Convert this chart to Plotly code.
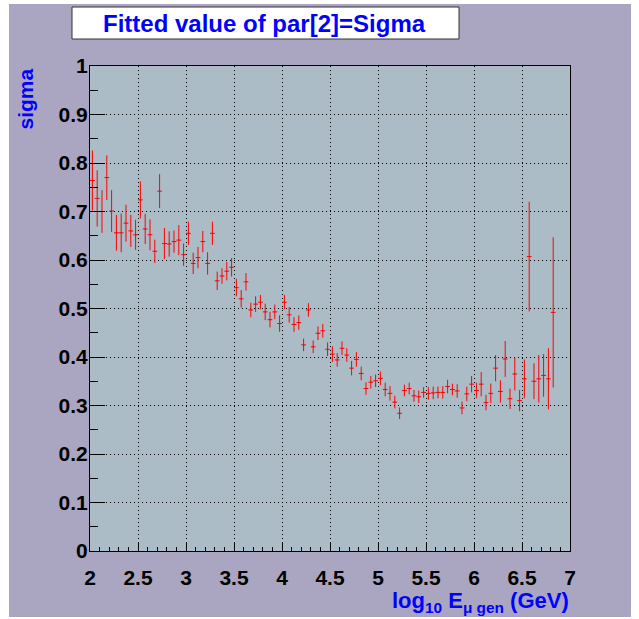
import numpy as np
import plotly.graph_objects as go

# histogram binning (log10 E from 2 to 7, 100 bins of 0.05); bins 0..96 filled
bin_lo = 2.0
bin_width = 0.05

sigma_vals = [
    0.764, 0.727, 0.700, 0.770, 0.701, 0.656, 0.656, 0.676, 0.660, 0.652,
    0.724, 0.664, 0.652, 0.618, 0.742, 0.634, 0.633, 0.638, 0.641, 0.611,
    0.655, 0.593, 0.605, 0.638, 0.593, 0.655, 0.557, 0.567, 0.577, 0.585,
    0.543, 0.520, 0.555, 0.497, 0.509, 0.513, 0.493, 0.477, 0.493, 0.469,
    0.513, 0.487, 0.467, 0.471, 0.425, 0.497, 0.421, 0.449, 0.454, 0.416,
    0.406, 0.394, 0.418, 0.404, 0.377, 0.395, 0.366, 0.335, 0.348, 0.351,
    0.356, 0.333, 0.325, 0.307, 0.284, 0.331, 0.335, 0.320, 0.318, 0.327,
    0.325, 0.326, 0.327, 0.327, 0.339, 0.333, 0.330, 0.295, 0.324, 0.344,
    0.331, 0.344, 0.306, 0.325, 0.377, 0.329, 0.396, 0.314, 0.365, 0.310,
    0.355, 0.607, 0.350, 0.355, 0.362, 0.355, 0.492,
]

sigma_errs = [
    0.062, 0.058, 0.044, 0.046, 0.043, 0.037, 0.040, 0.038, 0.033, 0.031,
    0.038, 0.031, 0.032, 0.024, 0.035, 0.032, 0.026, 0.023, 0.031, 0.023,
    0.024, 0.022, 0.022, 0.022, 0.023, 0.024, 0.019, 0.016, 0.019, 0.019,
    0.018, 0.018, 0.018, 0.015, 0.016, 0.015, 0.017, 0.016, 0.015, 0.017,
    0.015, 0.016, 0.015, 0.015, 0.013, 0.014, 0.013, 0.014, 0.014, 0.014,
    0.016, 0.014, 0.014, 0.014, 0.015, 0.015, 0.014, 0.013, 0.013, 0.013,
    0.014, 0.014, 0.015, 0.013, 0.012, 0.012, 0.012, 0.012, 0.013, 0.011,
    0.013, 0.013, 0.012, 0.013, 0.014, 0.012, 0.014, 0.013, 0.015, 0.017,
    0.016, 0.025, 0.016, 0.020, 0.027, 0.023, 0.037, 0.021, 0.034, 0.022,
    0.040, 0.113, 0.037, 0.049, 0.044, 0.063, 0.155,
]

x_tickvals = [2, 2.5, 3, 3.5, 4, 4.5, 5, 5.5, 6, 6.5, 7]
y_tickvals = [0, 0.1, 0.2, 0.3, 0.4, 0.5, 0.6, 0.7, 0.8, 0.9, 1]

x_centers = bin_lo + bin_width * (np.arange(len(sigma_vals)) + 0.5)

W, H = 639, 619
L, R, T, B = 90, 69, 66, 68
PW, PH = W - L - R, H - T - B

def px(x):
    return (x - L) / PW

def py(y):
    return (H - B - y) / PH

LAV = "#aaa6c1"
PLOTBG = "#abbcc7"
FONT = "Liberation Sans, Arial, sans-serif"

fig = go.Figure()
fig.add_trace(go.Scatter(
    x=x_centers, y=sigma_vals, mode="markers",
    marker=dict(size=1, color="#ff0000"),
    error_y=dict(type="data", array=sigma_errs, color="#ff0000", thickness=1, width=0),
    error_x=dict(type="constant", value=bin_width / 2, color="#ff0000", thickness=1, width=0),
    showlegend=False, hoverinfo="skip",
))

axis_common = dict(
    showline=True, linecolor="black", linewidth=1, mirror=True,
    showgrid=True, gridcolor="black", gridwidth=1, griddash="1px,3px",
    ticks="inside", tickcolor="black", tickwidth=1,
    tickfont=dict(family=FONT, size=21, color="black", weight="bold"),
    zeroline=False,
)

fig.update_xaxes(range=[2, 7], tickvals=x_tickvals, ticklen=8,
                 minor=dict(dtick=0.1, ticks="inside", ticklen=4, tickcolor="black", showgrid=False),
                 ticklabelstandoff=8,
                 **axis_common)
fig.update_yaxes(range=[0, 1], tickvals=y_tickvals, ticklen=15,
                 minor=dict(dtick=0.05, ticks="inside", ticklen=8, tickcolor="black", showgrid=False),
                 ticklabelstandoff=-3,
                 **axis_common)

shapes = [
    # white outer strips
    dict(type="rect", xref="paper", yref="paper", x0=px(0), x1=px(9), y0=py(H), y1=py(0),
         fillcolor="white", line_width=0, layer="above"),
    dict(type="rect", xref="paper", yref="paper", x0=px(0), x1=px(W), y0=py(4), y1=py(0),
         fillcolor="white", line_width=0, layer="above"),
    dict(type="rect", xref="paper", yref="paper", x0=px(631), x1=px(W), y0=py(H), y1=py(0),
         fillcolor="white", line_width=0, layer="above"),
    dict(type="rect", xref="paper", yref="paper", x0=px(0), x1=px(W), y0=py(H), y1=py(617),
         fillcolor="white", line_width=0, layer="above"),
    # title box
    dict(type="rect", xref="paper", yref="paper", x0=px(72), x1=px(459), y0=py(39), y1=py(7),
         fillcolor="white", line=dict(color="#333333", width=1), layer="above"),
]

annotations = [
    dict(text="Fitted value of par[2]=Sigma", xref="paper", yref="paper",
         x=px(264), y=py(23), xanchor="center", yanchor="middle", showarrow=False,
         font=dict(family=FONT, size=24, color="#0000ff", weight="bold")),
    dict(text="sigma", xref="paper", yref="paper", x=px(25), y=py(67),
         xanchor="center", yanchor="top", textangle=-90, showarrow=False,
         font=dict(family=FONT, size=21, color="#0000ff", weight="bold")),
    dict(text="log<sub>10</sub> E<sub>\u03bc gen</sub> (GeV)", xref="paper", yref="paper",
         x=px(571), y=py(602), xanchor="right", yanchor="middle", showarrow=False,
         font=dict(family=FONT, size=22, color="#0000ff", weight="bold")),
]

fig.update_layout(
    width=W, height=H,
    margin=dict(l=L, r=R, t=T, b=B, pad=0),
    paper_bgcolor=LAV, plot_bgcolor=PLOTBG,
    shapes=shapes, annotations=annotations,
    font=dict(family=FONT),
)

fig.write_html("out.html", config={"displayModeBar": False},
               post_script="document.body.style.margin='0px';document.body.style.padding='0px';")
